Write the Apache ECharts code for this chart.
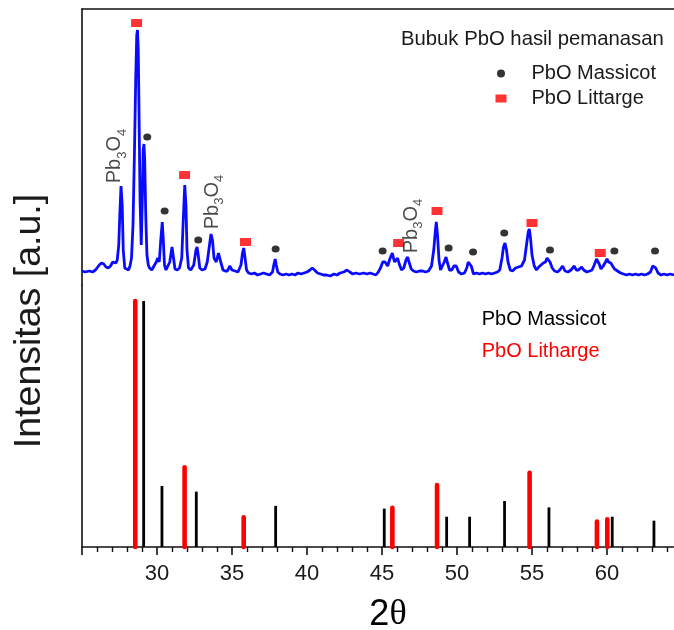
<!DOCTYPE html>
<html>
<head>
<meta charset="utf-8">
<script src="https://cdn.jsdelivr.net/npm/echarts@6/dist/echarts.min.js"></script>
<style>
html,body{margin:0;padding:0;background:#fff;}
#c{width:674px;height:630px;}
</style>
</head>
<body>
<div id="c"></div>
<script>
// ---- XRD pattern (top panel) : 2theta (deg) and intensity (a.u.)
const twoTheta = [25.0,25.1,25.2,25.3,25.5,25.7,25.9,26.0,26.15,26.3,26.45,26.6,26.75,26.9,27.05,27.15,27.25,27.35,27.45,27.52,27.6,27.68,27.75,27.85,27.95,28.1,28.2,28.3,28.4,28.5,28.58,28.65,28.7,28.75,28.8,28.87,28.95,29.02,29.08,29.13,29.18,29.25,29.33,29.42,29.5,29.65,29.8,29.95,30.05,30.15,30.25,30.35,30.42,30.5,30.6,30.7,30.85,31.0,31.1,31.2,31.35,31.5,31.65,31.75,31.85,31.93,32.0,32.1,32.25,32.45,32.6,32.67,32.75,32.85,33.0,33.2,33.35,33.5,33.6,33.7,33.8,33.95,34.1,34.25,34.4,34.55,34.7,34.85,35.0,35.2,35.4,35.6,35.7,35.78,35.87,35.97,36.1,36.3,36.5,36.7,36.9,37.1,37.3,37.5,37.7,37.8,37.88,37.95,38.05,38.2,38.4,38.6,38.8,39.0,39.2,39.4,39.6,39.8,40.0,40.2,40.35,40.5,40.7,40.9,41.1,41.3,41.55,41.8,42.0,42.2,42.45,42.67,42.85,43.05,43.25,43.5,43.77,44.0,44.2,44.4,44.6,44.75,44.9,45.05,45.2,45.29,45.38,45.5,45.6,45.69,45.78,45.85,45.95,46.04,46.15,46.3,46.45,46.6,46.71,46.8,46.95,47.1,47.3,47.5,47.7,47.9,48.1,48.3,48.45,48.55,48.62,48.7,48.8,48.9,49.0,49.15,49.27,49.35,49.5,49.65,49.8,49.95,50.1,50.3,50.5,50.65,50.75,50.84,50.95,51.1,51.3,51.5,51.7,51.9,52.1,52.3,52.5,52.7,52.85,53.0,53.1,53.2,53.3,53.4,53.55,53.7,53.9,54.1,54.3,54.5,54.65,54.75,54.82,54.9,55.0,55.15,55.3,55.45,55.6,55.75,55.9,56.0,56.09,56.2,56.35,56.5,56.7,56.85,57.04,57.2,57.4,57.6,57.82,57.95,58.1,58.31,58.45,58.65,58.85,59.0,59.15,59.3,59.37,59.48,59.6,59.75,59.9,60.0,60.1,60.25,60.35,60.5,60.7,60.9,61.1,61.3,61.5,61.7,61.9,62.1,62.3,62.5,62.7,62.9,63.05,63.15,63.25,63.4,63.6,63.8,64.0,64.2,64.47];
const intensity = [14,16,13,15,14,13,15,17,20,22,21,18,17,19,23,22,22,25,40,70,99,80,35,17,16,15,19,27,60,135,205,250,255,235,175,85,40,85,135,141,125,70,30,20,17,15,19,23,27,23,45,63,45,20,15,16,23,38,27,16,15,17,27,65,100,80,35,17,15,20,35,38,30,17,15,16,23,40,51,45,27,23,32,23,15,14,14,19,15,14,13,20,32,37,27,15,12,11,12,10,11,12,11,10,13,21,26,20,13,11,10,11,10,11,10,12,11,12,13,15,17,15,12,11,10,10,9,11,10,12,13,15,13,11,12,11,12,11,12,11,10,13,17,23,23,25,19,25,29,32,26,23,25,27,21,15,17,25,28,23,16,14,13,14,14,13,14,19,35,53,63,50,25,15,17,23,28,23,15,15,19,19,13,11,12,17,23,25,19,11,12,11,12,11,12,11,12,13,15,27,38,42,35,23,15,14,17,18,19,25,42,53,56,47,30,19,15,18,20,22,23,27,28,23,17,14,13,15,19,14,13,15,19,15,15,18,15,13,14,15,20,26,27,21,16,19,23,26,23,22,20,16,14,12,11,10,11,10,11,10,11,10,11,13,19,21,17,12,10,11,10,11,10];

// ---- phase markers on the pattern [2theta, intensity]
const massicotMarks = [[29.35,148],[30.51,74],[32.75,45],[37.91,36],[45.04,34],[49.44,37],[51.07,33],[53.15,52],[56.2,35],[60.49,34],[63.2,34]];
const littargeMarks = [[28.64,262],[31.84,110],[35.9,43],[46.11,42],[48.67,74],[55.0,62],[59.55,32]];
const pb3o4Labels = [[27.33,129],[33.8,83],[47.07,59]];

// ---- reference lines (bottom panel): 2theta and relative intensity (%)
const massicotRefPos = [29.11,30.33,32.62,37.91,45.15,49.31,50.84,53.17,56.13,60.35,63.13];
const massicotRefInt = [100,24.8,22.5,16.7,15.6,12.3,12.3,18.7,16.1,12.3,10.7];
const lithargeRefPos = [28.55,31.84,35.78,45.69,48.67,54.84,59.33,60.02];
const lithargeRefInt = [100,32.4,12.1,15.9,25.2,30.2,10.3,11.3];

const xTickLabels = [30,35,40,45,50,55,60];

const FONT = 'Liberation Sans';
const TXT = '#1a1a1a';
const AX = {lineStyle:{color:'#111', width:1.6}};

const zip = (a,b) => a.map((v,i)=>[v,b[i]]);

function refLine(color, width, cap){
  return function(params, api){
    const x = api.value(0), h = api.value(1);
    const p0 = api.coord([x,0]), p1 = api.coord([x,h]);
    return {type:'line', shape:{x1:p0[0],y1:p0[1],x2:p1[0],y2:p1[1]},
      style:{stroke:color, lineWidth:width, lineCap:cap}};
  };
}

const chart = echarts.init(document.getElementById('c'), null, {renderer:'canvas'});
chart.setOption({
  animation:false,
  backgroundColor:'#fff',
  textStyle:{fontFamily:FONT},
  title:{text:'Bubuk PbO hasil pemanasan', left:401, top:29, padding:0,
    textStyle:{fontSize:20.3, fontWeight:'normal', color:TXT, fontFamily:FONT, lineHeight:20}},
  legend:[
    {orient:'vertical', left:495.5, top:63.5, padding:0, itemWidth:11, itemHeight:8, itemGap:5,
     selectedMode:false,
     data:[{name:'PbO Massicot', icon:'circle'},{name:'PbO Littarge', icon:'rect'}],
     textStyle:{fontSize:20, color:TXT, fontFamily:FONT, lineHeight:20, padding:[0,0,0,20]}},
    {orient:'vertical', left:476.7, top:309, padding:0, itemWidth:0, itemHeight:20, itemGap:12.7,
     icon:'none', selectedMode:false,
     data:[{name:'PbO Massicot', textStyle:{color:'#000'}},{name:'PbO Litharge', textStyle:{color:'#ff0000'}}],
     textStyle:{fontSize:20, fontFamily:FONT, lineHeight:20}}
  ],
  grid:[
    {left:82, top:9, width:600, height:276, outerBoundsMode:'none', containLabel:false},
    {left:82, top:285, width:600, height:262, outerBoundsMode:'none', containLabel:false}
  ],
  xAxis:[
    {type:'value', gridIndex:0, min:25, max:65, position:'top',
     axisLine:{show:true, onZero:false, ...AX},
     axisTick:{show:false}, axisLabel:{show:false}, splitLine:{show:false}},
    {type:'value', gridIndex:1, min:25, max:65, interval:5, position:'bottom',
     axisLine:{show:true, onZero:false, ...AX},
     axisTick:{show:true, length:8, lineStyle:{color:'#111', width:1.6}},
     minorTick:{show:true, splitNumber:5, length:5, lineStyle:{color:'#111', width:1.4}},
     axisLabel:{fontSize:22, color:TXT, fontFamily:FONT, margin:16,
       formatter: v => xTickLabels.indexOf(v) >= 0 ? String(v) : ''},
     splitLine:{show:false},
     name:'2{t|θ}', nameLocation:'middle', nameGap:50,
     nameTextStyle:{fontSize:36, color:'#000', fontFamily:FONT, padding:[0,0,0,12],
       rich:{t:{fontSize:36, fontFamily:'Liberation Serif', color:'#000'}}}}
  ],
  yAxis:[
    {type:'value', gridIndex:0, min:0, max:276, axisLine:{show:true, onZero:false, ...AX},
     axisTick:{show:false}, axisLabel:{show:false}, splitLine:{show:false}},
    {type:'value', gridIndex:1, min:0, max:106.5, axisLine:{show:true, onZero:false, ...AX},
     axisTick:{show:false}, axisLabel:{show:false}, splitLine:{show:false}}
  ],
  graphic:[
    {type:'text', x:30, y:321, rotation:Math.PI/2,
     style:{text:'Intensitas [a.u.]', fontSize:37.5, fontFamily:FONT, fill:TXT, align:'center', verticalAlign:'middle'}}
  ],
  series:[
    {type:'line', name:'XRD', xAxisIndex:0, yAxisIndex:0, data:zip(twoTheta,intensity),
     showSymbol:false, symbol:'none', lineStyle:{color:'#0a0aff', width:2.8}, z:2},
    {type:'scatter', name:'PbO Massicot', xAxisIndex:0, yAxisIndex:0, data:massicotMarks,
     symbol:'circle', symbolSize:[8,7], itemStyle:{color:'#000'}, z:3},
    {type:'scatter', name:'PbO Littarge', xAxisIndex:0, yAxisIndex:0, data:littargeMarks,
     symbol:'rect', symbolSize:[11,8], itemStyle:{color:'#ff0000'}, z:3},
    {type:'scatter', name:'Pb3O4', xAxisIndex:0, yAxisIndex:0, data:pb3o4Labels,
     symbol:'circle', symbolSize:1, itemStyle:{color:'rgba(0,0,0,0)'}, z:4,
     label:{show:true, position:'inside', rotate:90, color:TXT,
       formatter:'{m|Pb}{s|3}{m|O}{s|4}',
       rich:{m:{fontSize:20, lineHeight:24, verticalAlign:'top', fontFamily:FONT, color:TXT},
             s:{fontSize:13, lineHeight:13, padding:[11,0,0,0], verticalAlign:'top', fontFamily:FONT, color:TXT}}}},
    {type:'custom', name:'PbO Massicot', coordinateSystem:'cartesian2d', xAxisIndex:1, yAxisIndex:1,
     data:zip(massicotRefPos,massicotRefInt), encode:{x:0,y:1},
     renderItem:refLine('#000', 2.8, 'butt'), z:3},
    {type:'custom', name:'PbO Litharge', coordinateSystem:'cartesian2d', xAxisIndex:1, yAxisIndex:1,
     data:zip(lithargeRefPos,lithargeRefInt), encode:{x:0,y:1},
     renderItem:refLine('#ff0000', 4.6, 'round'), z:2}
  ]
});
</script>
</body>
</html>
